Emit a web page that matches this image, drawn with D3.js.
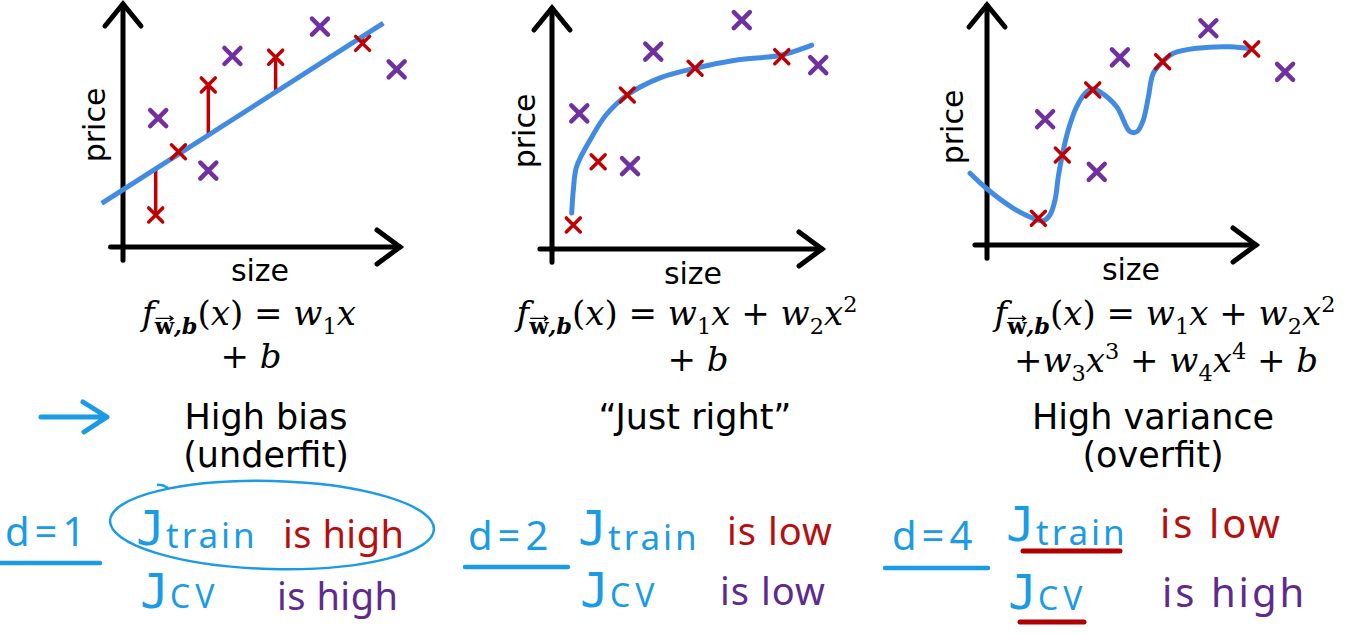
<!DOCTYPE html>
<html><head><meta charset="utf-8">
<script src="https://cdn.jsdelivr.net/npm/d3@7"></script>
<style>html,body{margin:0;padding:0;background:#fff;overflow:hidden}</style>
</head><body>
<svg id="c" width="1353" height="635" xmlns="http://www.w3.org/2000/svg"></svg>
<script>
// ---------- data (percent of axis length: x = size, y = price) ----------
const p1Red = [[11.8,13.2],[20.0,39.2],[30.8,66.7],[55.1,78.1],[86.5,83.8]];
const p1Purple = [[12.7,53.0],[30.8,31.4],[39.5,78.6],[71.1,90.7],[98.8,73.1]];
const p1FitX = [-7.7, 94.0];
const p1Intercept = 23.6;
const p1Slope = 0.729;

const p2Red = [[7.9,10.0],[17.1,36.2],[27.9,63.9],[53.0,75.0],[85.1,79.8]];
const p2Purple = [[10.1,56.3],[28.9,34.4],[37.5,81.9],[70.3,95.0],[98.6,76.3]];
const p2Curve = [[7.3,14.9],[7.9,24.5],[9.1,34.1],[14.1,45.2],[20.0,55.6],[27.9,63.9],[40.0,71.0],[53.0,75.0],[68.4,78.4],[85.1,80.5],[96.2,84.6]];

const p3Red = [[19.1,11.1],[28.0,37.5],[39.3,64.6],[65.3,76.4],[98.4,81.7]];
const p3Purple = [[21.6,52.4],[40.8,30.5],[49.4,78.2],[82.3,90.3],[110.8,72.1]];
const p3Curve = [[-6.3,29.9],[0.5,22.9],[9.8,15.3],[17.2,11.1],[20.9,10.1],[23.4,12.5],[25.3,18.8],[26.5,28.5],[28.0,37.5],[30.2,47.9],[33.3,57.6],[37.1,63.9],[39.3,65.0],[42.0,63.8],[48.2,57.6],[53.2,47.2],[55.7,47.2],[58.1,52.1],[60.0,61.8],[61.8,71.5],[65.3,76.4],[69.3,79.9],[78.0,82.0],[90.3,82.6],[98.4,81.7]];

const axisXLabel = "size";
const axisYLabel = "price";
const titles = ["High bias", "\u201CJust right\u201D", "High variance"];
const subtitles = ["(underfit)", "", "(overfit)"];
const degrees = ["d=1", "d=2", "d=4"];
const trainResult = ["is high", "is low", "is low"];
const cvResult = ["is high", "is low", "is high"];

// formula pieces: [text, kind]
const fHead = [["f","i"],["w","v"],[",b","bi"],["(","r"],["x","i"],[")","r"],[" = ","r"],["w","i"],["1","sub"],["x","i"]];
const fQuad = [[" + ","r"],["w","i"],["2","sub"],["x","i"],["2","sup"]];
const fPlusB = [["+ ","r"],["b","i"]];
const fHigh = [["+","r"],["w","i"],["3","sub"],["x","i"],["3","sup"],[" + ","r"],["w","i"],["4","sub"],["x","i"],["4","sup"],[" + ","r"],["b","i"]];

// ---------- layout ----------
const svg = d3.select("#c");
const frames = [
  {ox:123, oy:247, tx:400, ty:4, lx:260, ly:281, py:125, pbx:105},
  {ox:552, oy:249, tx:822, ty:8, lx:693, ly:284, py:131, pbx:535},
  {ox:987, oy:245, tx:1256, ty:5, lx:1131, ly:280, py:127, pbx:963}
];
const RED = "#c00000", PURPLE = "#7030a0", BLUE = "#428be2";

function scalesFor(f){
  return {
    x: d3.scaleLinear().domain([0,100]).range([f.ox, f.tx]),
    y: d3.scaleLinear().domain([0,100]).range([f.oy, f.ty])
  };
}

function drawAxes(g, f, s){
  const ax = g.append("g").attr("stroke","#000").attr("stroke-width",5)
    .attr("fill","none").attr("stroke-linecap","round").attr("stroke-linejoin","miter");
  ax.append("path").attr("d", d3.line()([[s.x(0), s.y(-5.5)],[s.x(0), s.y(100)]]));
  ax.append("path").attr("d", d3.line()([[s.x(-4.5), s.y(0)],[s.x(100), s.y(0)]]));
  ax.append("path").attr("d", d3.line()([[s.x(0)-18, s.y(100)+22],[s.x(0), s.y(100)],[s.x(0)+18, s.y(100)+22]]));
  ax.append("path").attr("d", d3.line()([[s.x(100)-23, s.y(0)-17],[s.x(100), s.y(0)],[s.x(100)-23, s.y(0)+17]]));
  g.append("text").attr("x", f.lx).attr("y", f.ly).attr("text-anchor","middle")
    .attr("font-family","DejaVu Sans").attr("font-size",30).attr("fill","#000").text(axisXLabel);
  g.append("text").attr("transform",`translate(${f.pbx},${f.py}) rotate(-90)`).attr("text-anchor","middle")
    .attr("font-family","DejaVu Sans").attr("font-size",30).attr("fill","#000").text(axisYLabel);
}

function cross(g, pts, s, half, color, width){
  g.selectAll(null).data(pts).enter().append("path")
    .attr("d", d => {
      const cx = s.x(d[0]), cy = s.y(d[1]);
      return `M${cx-half},${cy-half}L${cx+half},${cy+half}M${cx+half},${cy-half}L${cx-half},${cy+half}`;
    })
    .attr("stroke", color).attr("stroke-width", width).attr("stroke-linecap","round").attr("fill","none");
}

const gs = frames.map(() => svg.append("g"));
const sc = frames.map(scalesFor);
frames.forEach((f,i) => drawAxes(gs[i], f, sc[i]));

// panel 1: straight fit + residuals
(function(){
  const g = gs[0], s = sc[0];
  const fit = x => p1Intercept + p1Slope * x;
  g.selectAll(null).data(p1Red).enter().append("line")
    .attr("x1", d => s.x(d[0])).attr("x2", d => s.x(d[0]))
    .attr("y1", d => s.y(d[1])).attr("y2", d => s.y(fit(d[0])))
    .attr("stroke", RED).attr("stroke-width", 3.5);
  g.append("path").attr("d", d3.line().x(d => s.x(d)).y(d => s.y(fit(d)))(p1FitX))
    .attr("stroke", BLUE).attr("stroke-width", 5).attr("fill","none");
  cross(g, p1Purple, s, 8, PURPLE, 4.5);
  cross(g, p1Red, s, 7, RED, 3.5);
})();

[[1,p2Curve,p2Red,p2Purple],[2,p3Curve,p3Red,p3Purple]].forEach(([i,curve,red,pur]) => {
  const g = gs[i], s = sc[i];
  g.append("path").attr("d", d3.line().x(d => s.x(d[0])).y(d => s.y(d[1])).curve(d3.curveCatmullRom.alpha(0.5))(curve))
    .attr("stroke", BLUE).attr("stroke-width", 5).attr("fill","none").attr("stroke-linecap","round");
  cross(g, pur, s, 8, PURPLE, 4.5);
  cross(g, red, s, 7, RED, 3.5);
});

// ---------- formulas ----------
function formula(cx, y, parts, size){
  const t = svg.append("text").attr("x", cx).attr("y", y).attr("text-anchor","middle")
    .attr("font-family","DejaVu Serif").attr("font-size", size).attr("fill","#000");
  let shift = 0, idx = 0, vecIdx = -1;
  parts.forEach(([txt, kind]) => {
    const small = (kind === "sub" || kind === "sup" || kind === "v" || kind === "bi");
    const want = (kind === "sub" || kind === "v" || kind === "bi") ? size*0.27 : (kind === "sup" ? -size*0.38 : 0);
    t.append("tspan").attr("dy", want - shift).text(txt)
      .attr("font-size", small ? size*0.66 : size)
      .attr("font-style", (kind === "i" || kind === "bi") ? "italic" : "normal")
      .attr("font-weight", (kind === "v" || kind === "bi") ? "bold" : "normal");
    if (kind === "v") vecIdx = idx;
    shift = want; idx += txt.length;
  });
  if (vecIdx >= 0) {
    const e = t.node().getExtentOfChar(vecIdx);
    const ay = e.y + e.height*0.2, x0 = e.x + 1, x1 = e.x + e.width - 1;
    svg.append("path").attr("d", `M${x0},${ay}L${x1},${ay}M${x1-3.5},${ay-2.5}L${x1},${ay}L${x1-3.5},${ay+2.5}`)
      .attr("stroke","#000").attr("stroke-width",1.3).attr("fill","none");
  }
  return t;
}
formula(249, 325, fHead, 34);
formula(251, 368, fPlusB, 34);
formula(687, 325, fHead.concat(fQuad), 34);
formula(698, 371, fPlusB, 34);
formula(1165, 325, fHead.concat(fQuad), 34);
formula(1166, 372, fHigh, 34);

// ---------- titles ----------
const titleX = [266, 695, 1153];
titles.forEach((t,i) => {
  svg.append("text").attr("x", titleX[i]).attr("y", 429).attr("text-anchor","middle")
    .attr("font-family","DejaVu Sans").attr("font-size",35).attr("fill","#000").text(t);
  if (subtitles[i]) svg.append("text").attr("x", titleX[i]).attr("y", 467).attr("text-anchor","middle")
    .attr("font-family","DejaVu Sans").attr("font-size",35).attr("fill","#000").text(subtitles[i]);
});

// blue arrow
const TB = "#1b9be6", TR = "#b50f0f", TP = "#5e2a8c";
svg.append("path").attr("d","M41,417L107,417M83,402L107,417L84,432")
  .attr("stroke",TB).attr("stroke-width",5).attr("fill","none").attr("stroke-linecap","round").attr("stroke-linejoin","round");

// ---------- handwritten notes ----------
const HF = "Noto Sans";
const notes = [
  {dx:5, dy:546, ux0:0, ux1:100, uy:563, jx:165, jy:545, trx:166, try_:548, rx:283, ry:548, cjx:169, cjy:608, cvx:170, cvy:608, px:277, py:610, ls:0.5},
  {dx:468, dy:550, ux0:465, ux1:568, uy:567, jx:607, jy:545, trx:608, try_:550, rx:727, ry:545, cjx:609, cjy:607, cvx:610, cvy:607, px:720, py:605, ls:1},
  {dx:892, dy:550, ux0:885, ux1:988, uy:568, jx:1035, jy:541, trx:1036, try_:545, rx:1160, ry:538, cjx:1037, cjy:609, cvx:1038, cvy:610, px:1162, py:607, ls:3}
];
function hand(x, y, txt, size, color, ls, fam){
  return svg.append("text").attr("x",x).attr("y",y).attr("font-family",fam || HF).attr("font-size",size).attr("fill",color)
    .attr("letter-spacing", ls || 0).text(txt);
}
notes.forEach((n,i) => {
  hand(n.dx, n.dy, degrees[i], 40, TB, 5);
  svg.append("line").attr("x1",n.ux0).attr("x2",n.ux1).attr("y1",n.uy).attr("y2",n.uy)
    .attr("stroke",TB).attr("stroke-width",4.5).attr("stroke-linecap","round");
  hand(n.jx, n.jy, "J", 48, TB, 0, "DejaVu Sans Mono").attr("text-anchor","end");
  hand(n.trx, n.try_, "train", 35, TB, 3);
  hand(n.rx, n.ry, trainResult[i], i===2 ? 40 : 38, TR, n.ls);
  hand(n.cjx, n.cjy, "J", 48, TB, 0, "DejaVu Sans Mono").attr("text-anchor","end");
  hand(n.cvx, n.cvy, "CV", 32, TB, 5);
  hand(n.px, n.py, cvResult[i], i===2 ? 40 : 38, TP, n.ls);
});
// red underlines (panel 3)
svg.append("line").attr("x1",1023).attr("x2",1120).attr("y1",551).attr("y2",551)
  .attr("stroke","#b00000").attr("stroke-width",5).attr("stroke-linecap","round");
svg.append("line").attr("x1",1020).attr("x2",1084).attr("y1",622).attr("y2",622)
  .attr("stroke","#b00000").attr("stroke-width",5).attr("stroke-linecap","round");
// ellipse around J_train high
svg.append("ellipse").attr("cx",272).attr("cy",525).attr("rx",162).attr("ry",44)
  .attr("transform","rotate(1.5,272,525)")
  .attr("fill","none").attr("stroke",TB).attr("stroke-width",2.5);
svg.append("path").attr("d","M157,485Q162,484 168,488").attr("stroke",TB).attr("stroke-width",2.5).attr("fill","none");
</script>
</body></html>
